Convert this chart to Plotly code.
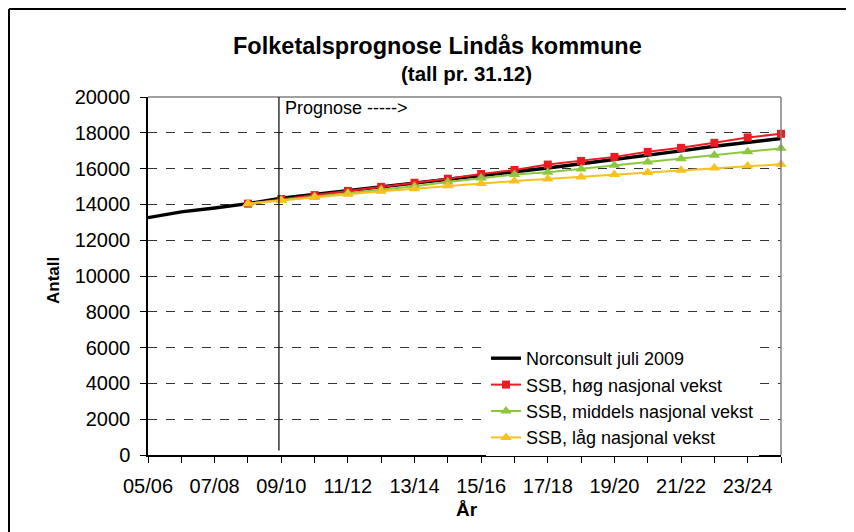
import plotly.graph_objects as go

categories = ["05/06", "06/07", "07/08", "08/09", "09/10", "10/11", "11/12", "12/13",
              "13/14", "14/15", "15/16", "16/17", "17/18", "18/19", "19/20", "20/21",
              "21/22", "22/23", "23/24", "24/25"]

norconsult = [13260, 13580, 13800, 14040, 14350, 14560, 14760, 14950, 15150, 15360,
              15570, 15790, 16030, 16270, 16500, 16740, 16990, 17250, 17470, 17680]
ssb_hoeg = [None, None, None, 14040, 14300, 14520, 14755, 14980, 15210, 15435,
            15700, 15925, 16225, 16430, 16655, 16935, 17160, 17440, 17740, 17945]
ssb_middels = [None, None, None, 14040, 14230, 14440, 14640, 14830, 15010, 15250,
               15480, 15670, 15790, 15980, 16190, 16375, 16545, 16750, 16945, 17130]
ssb_laag = [None, None, None, 14040, 14220, 14390, 14566, 14736, 14880, 15038,
            15170, 15302, 15421, 15533, 15664, 15776, 15907, 16030, 16148, 16241]

tick_labels = [c if i % 2 == 0 else "" for i, c in enumerate(categories)]
y_ticks = list(range(0, 20001, 2000))
y_tick_labels = [str(v) for v in y_ticks]

FONT = "Liberation Sans, Arial, sans-serif"

# page offset (browser body margin)
OX, OY = 8, 8
# plot-area geometry in page pixels
L, R, T, B = 148, 781, 97, 455
W, H = R - L, B - T
FW, FH = 854, 532


def px(x):
    return (x - L) / W


def py(y):
    return (B - y) / H


fig = go.Figure()
fig.add_trace(go.Scatter(x=categories, y=norconsult, name="Norconsult juli 2009",
                         mode="lines", line=dict(color="#000000", width=3.4),
                         cliponaxis=False))
fig.add_trace(go.Scatter(x=categories, y=ssb_hoeg, name="SSB, høg nasjonal vekst",
                         mode="lines+markers", line=dict(color="#ED1C24", width=2),
                         marker=dict(symbol="square", size=8, color="#ED1C24"),
                         cliponaxis=False))
fig.add_trace(go.Scatter(x=categories, y=ssb_middels, name="SSB, middels nasjonal vekst",
                         mode="lines+markers", line=dict(color="#8DC63F", width=2),
                         marker=dict(symbol="triangle-up", size=10, color="#8DC63F"),
                         cliponaxis=False))
fig.add_trace(go.Scatter(x=categories, y=ssb_laag, name="SSB, låg nasjonal vekst",
                         mode="lines+markers", line=dict(color="#F7C11E", width=2),
                         marker=dict(symbol="triangle-up", size=10, color="#F7C11E"),
                         cliponaxis=False))

fig.update_layout(
    width=FW, height=FH,
    margin=dict(l=L - OX, r=FW - (R - OX), t=T - OY, b=FH - (B - OY), pad=0),
    paper_bgcolor="white", plot_bgcolor="white",
    font=dict(family=FONT, color="#000000", size=19),
    showlegend=True,
    legend=dict(x=px(486), y=py(340), xanchor="left", yanchor="top",
                bgcolor="white", borderwidth=0, font=dict(size=18, family=FONT),
                tracegroupgap=0, itemwidth=30),
    xaxis=dict(type="category", categoryorder="array", categoryarray=categories,
               range=[0, len(categories) - 1],
               tickmode="array", tickvals=categories, ticktext=tick_labels,
               ticks="outside", ticklen=6, tickcolor="#000", tickwidth=1,
               showline=True, linecolor="#000", linewidth=1.5,
               showgrid=False, zeroline=False,
               tickfont=dict(size=20, family=FONT), ticklabelstandoff=6),
    yaxis=dict(range=[0, 20000], tickmode="array", tickvals=y_ticks, ticktext=y_tick_labels,
               ticks="outside", ticklen=6, tickcolor="#000", tickwidth=1,
               showline=True, linecolor="#000", linewidth=1.5,
               showgrid=True, gridcolor="#333333", gridwidth=1, griddash="dash",
               zeroline=False,
               tickfont=dict(size=20, family=FONT), ticklabelstandoff=6),
)

shapes = [
    # grey frame of plot area (top and right)
    dict(type="line", xref="paper", yref="paper", x0=0, x1=1, y0=1, y1=1,
         line=dict(color="#808080", width=1.5)),
    dict(type="line", xref="paper", yref="paper", x0=1, x1=1, y0=0, y1=1,
         line=dict(color="#808080", width=1.5)),
    # prognose divider
    dict(type="line", xref="x", yref="y", x0=3.93, x1=3.93, y0=250, y1=20000,
         line=dict(color="#000", width=1.2)),
    # outer chart frame (left and top visible)
    dict(type="line", xref="paper", yref="paper", x0=px(9), x1=px(9), y0=py(9), y1=py(560),
         line=dict(color="#000", width=2)),
    dict(type="line", xref="paper", yref="paper", x0=px(9), x1=px(880), y0=py(9), y1=py(9),
         line=dict(color="#000", width=2)),
]
fig.update_layout(shapes=shapes)

annotations = [
    dict(text="<b>Folketalsprognose Lindås kommune</b>", x=px(437), y=py(46),
         xref="paper", yref="paper", xanchor="center", yanchor="middle",
         showarrow=False, font=dict(size=23.5, family=FONT)),
    dict(text="<b>(tall pr. 31.12)</b>", x=px(466), y=py(73),
         xref="paper", yref="paper", xanchor="center", yanchor="middle",
         showarrow=False, font=dict(size=20.5, family=FONT)),
    dict(text="Prognose ----->", x=px(283), y=py(108),
         xref="paper", yref="paper", xanchor="left", yanchor="middle",
         showarrow=False, font=dict(size=18, family=FONT)),
    dict(text="<b>Antall</b>", x=px(53), y=py(280), textangle=-90,
         xref="paper", yref="paper", xanchor="center", yanchor="middle",
         showarrow=False, font=dict(size=17, family=FONT)),
    dict(text="<b>År</b>", x=px(467), y=py(509),
         xref="paper", yref="paper", xanchor="center", yanchor="middle",
         showarrow=False, font=dict(size=19, family=FONT)),
]
fig.update_layout(annotations=annotations)

fig.write_html("out.html")
